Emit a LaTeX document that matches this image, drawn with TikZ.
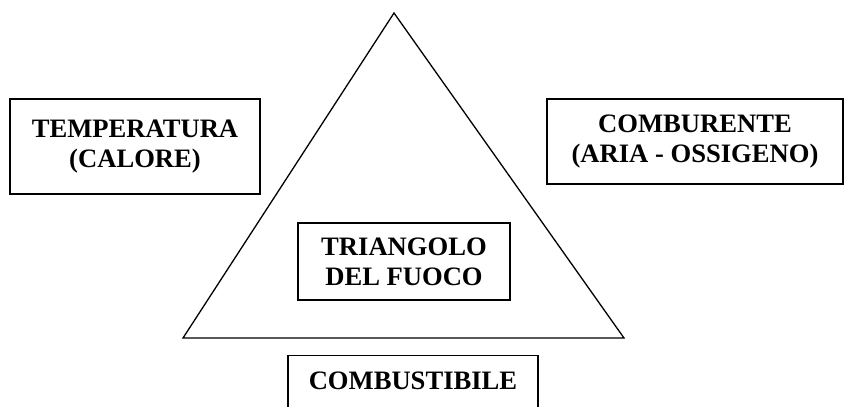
\documentclass[tikz,border=0pt]{standalone}
\usepackage{fontspec}
\setmainfont{Liberation Serif}
\usepackage{tikz}

\begin{document}
\begin{tikzpicture}[
    x=1pt, y=-1pt,
    box/.style={rectangle, draw, line width=1.2pt, align=center, inner sep=0pt,
        font=\bfseries\fontsize{26.6}{30}\selectfont},
    side/.style={line width=1.3pt}
]
    \clip (0,0) rectangle (847,407);

    \coordinate (apex) at (394,13);
    \coordinate (baseL) at (183,338);
    \coordinate (baseR) at (624,338);
    \draw[side] (baseL) -- (apex) -- (baseR) -- cycle;

    \node[box, minimum width=250pt, minimum height=95pt] (temp) at (135,146.5) {TEMPERATURA\\(CALORE)};
    \node[box, minimum width=296pt, minimum height=85pt] (comb) at (695,141.5) {COMBURENTE\\(ARIA - OSSIGENO)};
    \node[box, minimum width=212pt, minimum height=77pt] (fuoco) at (404,261.5) {TRIANGOLO\\DEL FUOCO};
    \node[box, anchor=north, minimum width=250pt, inner ysep=16.5pt, text depth=30pt] (fuel) at (413,355) {COMBUSTIBILE};
\end{tikzpicture}
\end{document}
